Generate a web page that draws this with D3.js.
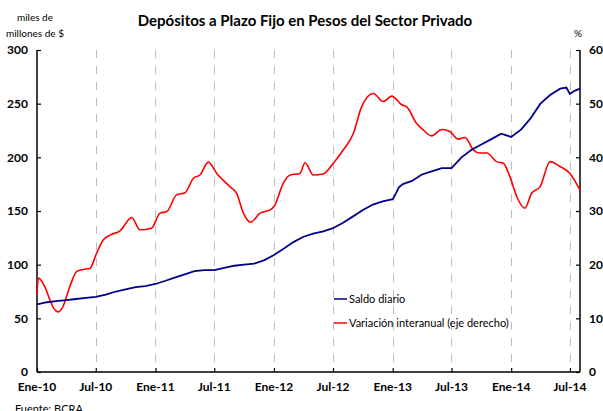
<!DOCTYPE html>
<html>
<head>
  <meta charset="utf-8">
  <title>Depósitos a Plazo Fijo</title>
  <style>
    body { margin: 0; background: #fff; font-family: 'Lato', sans-serif; }
    .tick-label { font-weight: bold; font-size: 12px; fill: #000; }
    .grid { stroke: #bdbdbd; stroke-width: 1; stroke-dasharray: 8,8; }
    .axis-line { stroke: #000; stroke-width: 1.5; }
  </style>
</head>
<body>
  <div id="chart"></div>
  <script src="https://d3js.org/d3.v7.min.js"></script>
  <script>
    var width = 603,
      height = 411;

    var m = { left: 37, right: 580, top: 50, bottom: 372 };

    // Saldo diario (miles de millones de $)
    var saldoFechas = [
      "2010-01-01", "2010-02-01", "2010-03-01", "2010-04-01", "2010-05-01", "2010-06-01",
      "2010-07-01", "2010-08-01", "2010-09-01", "2010-10-01", "2010-11-01", "2010-12-01",
      "2011-01-01", "2011-02-01", "2011-03-01", "2011-04-01", "2011-05-01", "2011-06-01",
      "2011-07-01", "2011-08-01", "2011-09-01", "2011-10-01", "2011-11-01", "2011-12-01",
      "2012-01-01", "2012-02-01", "2012-03-01", "2012-04-01", "2012-05-01", "2012-06-01",
      "2012-07-01", "2012-08-01", "2012-09-01", "2012-10-01", "2012-11-01", "2012-12-01",
      "2013-01-01", "2013-01-10", "2013-01-20", "2013-02-01", "2013-03-01", "2013-04-01", "2013-05-01",
      "2013-06-01", "2013-07-01", "2013-08-01", "2013-09-01", "2013-10-01", "2013-11-01",
      "2013-12-01", "2014-01-01", "2014-02-01", "2014-03-01", "2014-04-01", "2014-05-01",
      "2014-06-01", "2014-06-20", "2014-07-01", "2014-07-15", "2014-08-01"
    ];
    var saldoValores = [
      63, 65, 66, 67, 68, 69,
      70, 72, 75, 77, 79, 80,
      82, 85, 88, 91, 94, 95,
      95, 97, 99, 100, 101, 104,
      109, 115, 121, 126, 129, 131,
      134, 139, 145, 151, 156, 159,
      161, 166, 172, 175, 178, 184, 187,
      190, 190, 200, 207, 212, 217,
      222, 219, 226, 236, 250, 258,
      264, 265, 259, 262, 264
    ];

    // Variación interanual (%), eje derecho
    var varFechas = [
      "2010-01-01", "2010-01-05", "2010-01-25", "2010-02-10", "2010-02-22", "2010-03-07",
      "2010-03-22", "2010-04-12", "2010-05-03", "2010-05-23", "2010-06-13", "2010-07-04",
      "2010-07-24", "2010-08-14", "2010-09-14", "2010-10-20", "2010-11-14", "2010-12-20",
      "2011-01-15", "2011-02-05", "2011-03-07", "2011-04-02", "2011-04-28", "2011-05-18",
      "2011-06-13", "2011-07-09", "2011-08-19", "2011-09-08", "2011-09-29", "2011-10-21",
      "2011-11-19", "2011-12-20", "2012-01-02", "2012-01-30", "2012-02-20", "2012-03-21",
      "2012-04-06", "2012-05-01", "2012-06-01", "2012-07-02", "2012-08-02", "2012-09-02",
      "2012-09-27", "2012-11-02", "2012-12-03", "2012-12-29", "2013-01-29", "2013-02-13",
      "2013-03-16", "2013-04-05", "2013-05-01", "2013-06-01", "2013-06-26", "2013-07-22",
      "2013-08-12", "2013-09-06", "2013-09-27", "2013-10-18", "2013-11-17", "2013-12-08",
      "2013-12-28", "2014-01-18", "2014-02-12", "2014-03-05", "2014-03-31", "2014-05-01",
      "2014-05-31", "2014-07-01", "2014-08-01"
    ];
    var varValores = [
      14.5, 17.5, 15.9, 13.4, 11.8, 11.2,
      12.2, 15.9, 18.7, 19.1, 19.3, 22.2,
      24.6, 25.5, 26.3, 28.8, 26.5, 26.8,
      29.6, 29.9, 33.0, 33.4, 36.1, 36.7,
      39.1, 37.0, 34.5, 33.3, 29.6, 27.9,
      29.6, 30.2, 30.9, 35.2, 36.7, 37.0,
      39.0, 36.7, 36.9, 38.9, 41.4, 44.5,
      49.4, 51.9, 50.4, 51.4, 49.8, 49.4,
      46.3, 45.1, 44.0, 45.2, 44.8, 43.4,
      43.7, 41.4, 40.8, 40.8, 39.2, 38.9,
      36.4, 32.7, 30.5, 33.3, 34.5, 39.2,
      38.3, 37.0, 33.9
    ];

    var xTicks = ["2010-01-01", "2010-07-01", "2011-01-01", "2011-07-01", "2012-01-01",
      "2012-07-01", "2013-01-01", "2013-07-01", "2014-01-01", "2014-07-01"];
    var xTickLabels = ["Ene-10", "Jul-10", "Ene-11", "Jul-11", "Ene-12",
      "Jul-12", "Ene-13", "Jul-13", "Ene-14", "Jul-14"];
    var yLeftTicks = [0, 50, 100, 150, 200, 250, 300];
    var yRightTicks = [0, 10, 20, 30, 40, 50, 60];

    var parse = d3.timeParse("%Y-%m-%d");

    var saldo = saldoFechas.map(function(d, i) { return { date: parse(d), value: saldoValores[i] }; });
    var variacion = varFechas.map(function(d, i) { return { date: parse(d), value: varValores[i] }; });

    var x = d3.scaleTime()
      .domain([parse("2010-01-01"), parse("2014-08-01")])
      .range([m.left, m.right]);

    var yL = d3.scaleLinear().domain([0, 300]).range([m.bottom, m.top]);
    var yR = d3.scaleLinear().domain([0, 60]).range([m.bottom, m.top]);

    var svg = d3.select("#chart").append("svg")
      .attr("width", width)
      .attr("height", height);

    // dashed vertical grid
    svg.selectAll("line.grid")
      .data(xTicks.slice(1))
      .enter().append("line")
      .attr("class", "grid")
      .attr("x1", function(d) { return Math.round(x(parse(d))) + 0.5; })
      .attr("x2", function(d) { return Math.round(x(parse(d))) + 0.5; })
      .attr("y1", m.top)
      .attr("y2", m.bottom - 6);

    // axes (inward ticks only, domain lines drawn separately)
    var gL = svg.append("g")
      .attr("transform", "translate(" + m.left + ",0)")
      .call(d3.axisRight(yL).tickValues(yLeftTicks).tickSize(4).tickFormat(""));
    var gR = svg.append("g")
      .attr("transform", "translate(" + m.right + ",0)")
      .call(d3.axisLeft(yR).tickValues(yRightTicks).tickSize(4).tickFormat(""));
    var gB = svg.append("g")
      .attr("transform", "translate(0," + m.bottom + ")")
      .call(d3.axisTop(x).tickValues(xTicks.map(parse)).tickSize(4).tickFormat(""));

    [gL, gR, gB].forEach(function(g) {
      g.select(".domain").remove();
      g.selectAll("line").attr("stroke", "#000").attr("stroke-width", 1.2);
    });

    svg.append("line").attr("class", "axis-line")
      .attr("x1", m.left).attr("x2", m.left).attr("y1", m.top).attr("y2", m.bottom);
    svg.append("line").attr("class", "axis-line")
      .attr("x1", m.right).attr("x2", m.right).attr("y1", m.top).attr("y2", m.bottom);
    svg.append("line").attr("class", "axis-line")
      .attr("x1", m.left).attr("x2", m.right).attr("y1", m.bottom).attr("y2", m.bottom);

    // tick labels
    svg.selectAll("text.yl")
      .data(yLeftTicks)
      .enter().append("text")
      .attr("class", "tick-label")
      .attr("x", 28)
      .attr("y", function(d) { return yL(d); })
      .attr("dy", "0.35em")
      .attr("text-anchor", "end")
      .text(function(d) { return d; });

    svg.selectAll("text.yr")
      .data(yRightTicks)
      .enter().append("text")
      .attr("class", "tick-label")
      .attr("x", 589)
      .attr("y", function(d) { return yR(d); })
      .attr("dy", "0.35em")
      .attr("text-anchor", "start")
      .text(function(d) { return d; });

    svg.selectAll("text.xl")
      .data(xTicks)
      .enter().append("text")
      .attr("class", "tick-label")
      .attr("x", function(d) { return x(parse(d)); })
      .attr("y", 391)
      .attr("text-anchor", "middle")
      .text(function(d, i) { return xTickLabels[i]; });

    // lines
    var lineL = d3.line()
      .x(function(d) { return x(d.date); })
      .y(function(d) { return yL(d.value); });

    var lineR = d3.line()
      .curve(d3.curveMonotoneX)
      .x(function(d) { return x(d.date); })
      .y(function(d) { return yR(d.value); });

    svg.append("path")
      .datum(variacion)
      .attr("fill", "none")
      .attr("stroke", "#ff0000")
      .attr("stroke-width", 1.6)
      .attr("d", lineR);

    svg.append("path")
      .datum(saldo)
      .attr("fill", "none")
      .attr("stroke", "#00008b")
      .attr("stroke-width", 1.8)
      .attr("d", lineL);

    // title and axis units
    svg.append("text")
      .attr("x", 305)
      .attr("y", 26)
      .attr("text-anchor", "middle")
      .style("font-weight", "bold")
      .style("font-size", "15px")
      .text("Depósitos a Plazo Fijo en Pesos del Sector Privado");

    svg.append("text")
      .attr("x", 35).attr("y", 21)
      .attr("text-anchor", "middle")
      .style("font-size", "10px")
      .text("miles de");
    svg.append("text")
      .attr("x", 35).attr("y", 37)
      .attr("text-anchor", "middle")
      .style("font-size", "10px")
      .text("millones de $");
    svg.append("text")
      .attr("x", 578).attr("y", 37)
      .attr("text-anchor", "middle")
      .style("font-size", "10px")
      .text("%");

    // legend
    var legend = [
      { label: "Saldo diario", color: "#00008b", y: 299 },
      { label: "Variación interanual (eje derecho)", color: "#ff0000", y: 323 }
    ];
    var lg = svg.selectAll("g.legend")
      .data(legend)
      .enter().append("g")
      .attr("transform", function(d) { return "translate(334," + d.y + ")"; });
    lg.append("line")
      .attr("x1", 0).attr("x2", 13)
      .attr("stroke", function(d) { return d.color; })
      .attr("stroke-width", 1.5);
    lg.append("text")
      .attr("x", 15)
      .attr("dy", "0.35em")
      .style("font-size", "11px")
      .text(function(d) { return d.label; });

    // source note, clipped at the bottom edge as in the original
    svg.append("text")
      .attr("x", 15).attr("y", 413)
      .style("font-size", "11px")
      .text("Fuente: BCRA");
  </script>
</body>
</html>
